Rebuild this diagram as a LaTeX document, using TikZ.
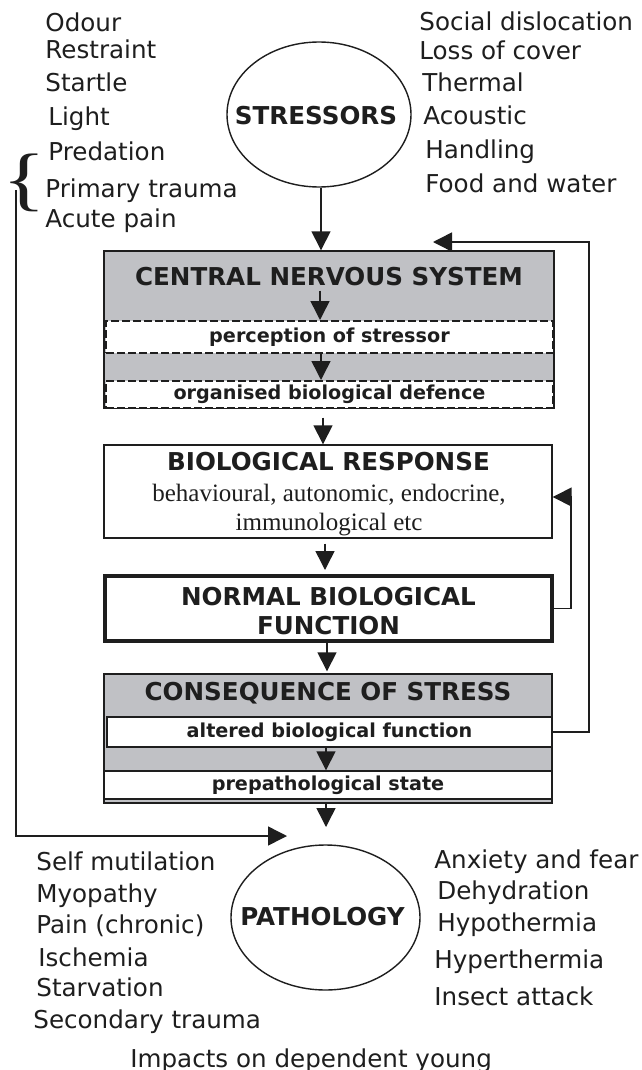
\documentclass[tikz,border=0pt]{standalone}
\usepackage{fontspec}
\usepackage{graphicx}
\setmainfont{DejaVu Sans}
\newfontfamily\serifx{Liberation Serif}
\usetikzlibrary{shapes.geometric,arrows.meta,calc}
\definecolor{boxgray}{RGB}{192,193,197}
\definecolor{ink}{RGB}{30,30,30}
\begin{document}
\begin{tikzpicture}[x=0.5pt,y=-0.5pt,
  every node/.style={text=ink},
  lbl/.style={anchor=base west,inner sep=0,font=\fontsize{12.3}{14}\selectfont},
  ttl/.style={inner sep=0,font=\fontsize{12.3}{14}\selectfont\bfseries},
  subbox/.style={draw=ink,fill=white,line width=0.7pt,inner sep=0,font=\fontsize{9.6}{11}\selectfont\bfseries},
  dashbox/.style={subbox,line width=1pt,dash pattern=on 4pt off 1.5pt},
  graybox/.style={draw=ink,fill=boxgray,line width=0.7pt,inner sep=0},
  whitebox/.style={draw=ink,fill=white,line width=0.7pt,inner sep=0},
  oval/.style={ellipse,draw=ink,line width=0.7pt,inner sep=0},
  serifline/.style={anchor=base,inner sep=0,font=\serifx\fontsize{12.5}{14}\selectfont},
  arr/.style={draw=ink,line width=0.75pt,-{Triangle[length=9.5pt,width=9.5pt]}}
]
\useasboundingbox (0,0) rectangle (642,1070);
\fill[white] (0,0) rectangle (642,1070);

% stressors
\node[oval,minimum width=92pt,minimum height=72.5pt] (stress) at (319,114.5) {};
\node[ttl] (stresst) at (316,116) {STRESSORS};

% left stressor list
\node[lbl] (s1) at (45,32) {Odour};
\node[lbl] (s2) at (45,59) {Restraint};
\node[lbl] (s3) at (45,92) {Startle};
\node[lbl] (s4) at (48,126) {Light};
\node[lbl] (s5) at (48,160) {Predation};
\node[lbl] (s6) at (45,197) {Primary trauma};
\node[lbl] (s7) at (45,227) {Acute pain};
\node[inner sep=0,font=\serifx\fontsize{35}{36}\selectfont] (brace) at (24,183) {\scalebox{1.3}[1]{\{}};

% right stressor list
\node[lbl] (r1) at (419,31) {Social dislocation};
\node[lbl] (r2) at (419,60) {Loss of cover};
\node[lbl] (r3) at (422,92) {Thermal};
\node[lbl] (r4) at (423,125) {Acoustic};
\node[lbl] (r5) at (425,158) {Handling};
\node[lbl] (r6) at (425,192) {Food and water};

% central nervous system
\node[graybox,minimum width=225pt,minimum height=78.5pt] (cns) at (329,329.5) {};
\node[ttl] (cnst) at (329,277) {CENTRAL NERVOUS SYSTEM};
\node[dashbox,minimum width=223.5pt,minimum height=16pt] (perc) at (329.5,337) {perception of stressor};
\node[dashbox,minimum width=223.5pt,minimum height=13.5pt] (org) at (329.5,394.5) {organised biological defence};

% biological response
\node[whitebox,minimum width=224pt,minimum height=46.5pt] (bio) at (328,491.5) {};
\node[ttl] (biot) at (328.5,462) {BIOLOGICAL RESPONSE};
\node[serifline] (bio1) at (329,501.7) {behavioural, autonomic, endocrine,};
\node[serifline] (bio2) at (329,530) {immunological etc};

% normal biological function
\node[draw=ink,line width=2.2pt,fill=white,inner sep=0,minimum width=223.4pt,minimum height=32.3pt] (normal) at (328.5,608.5) {};
\node[ttl] (norm1) at (328.5,597) {NORMAL BIOLOGICAL};
\node[ttl] (norm2) at (328.5,626) {FUNCTION};

% consequence of stress
\node[graybox,minimum width=224pt,minimum height=64.5pt] (cons) at (328,738.5) {};
\node[ttl] (const) at (328,693) {CONSEQUENCE OF STRESS};
\node[subbox,minimum width=222.5pt,minimum height=15pt] (alt) at (329.5,732) {altered biological function};
\node[subbox,minimum width=224pt,minimum height=14pt] (prep) at (328,785) {prepathological state};

% pathology
\node[oval,minimum width=94.5pt,minimum height=72.5pt] (path) at (325.5,917.5) {};
\node[ttl] (patht) at (322.5,917) {PATHOLOGY};

% pathology lists
\node[lbl] (p1) at (36,870) {Self mutilation};
\node[lbl] (p2) at (36,902) {Myopathy};
\node[lbl] (p3) at (36,933) {Pain (chronic)};
\node[lbl] (p4) at (38,966) {Ischemia};
\node[lbl] (p5) at (36,996) {Starvation};
\node[lbl] (p6) at (33,1028) {Secondary trauma};
\node[lbl] (q1) at (434,868) {Anxiety and fear};
\node[lbl] (q2) at (437,899) {Dehydration};
\node[lbl] (q3) at (437,931) {Hypothermia};
\node[lbl] (q4) at (434,968) {Hyperthermia};
\node[lbl] (q5) at (434,1005) {Insect attack};
\node[lbl] (imp) at (130,1067) {Impacts on dependent young};

% free ends
\coordinate (lstart) at (16,190);
\coordinate (ltip) at (287,836);
\coordinate (fbtip) at (433,242);
\coordinate (ptip) at (326,827);

% vertical arrows
\draw[arr] (stress.south -| 321,0) -- (cns.north -| 321,0);
\draw[arr,shorten <=2pt] (cnst.south -| 320,0) -- (perc.north -| 320,0);
\draw[arr] (perc.south -| 321,0) -- (org.north -| 321,0);
\draw[arr,shorten <=4.5pt] (cns.south -| 323,0) -- (bio.north -| 323,0);
\draw[arr,shorten <=2.5pt,shorten >=2pt] (bio.south -| 325,0) -- (normal.north -| 325,0);
\draw[arr,shorten >=1pt] (normal.south -| 327,0) -- (cons.north -| 327,0);
\draw[arr] (alt.south -| 326,0) -- (prep.north -| 326,0);
\draw[arr] (cons.south -| 326,0) -- (ptip);

% feedback loops
\draw[arr] (alt.east) -| (589,242) -- (fbtip);
\draw[arr] (normal.east) -| (571,497) -- (bio.east |- 0,497);
\draw[arr] (lstart) |- (ltip);
\end{tikzpicture}
\end{document}
